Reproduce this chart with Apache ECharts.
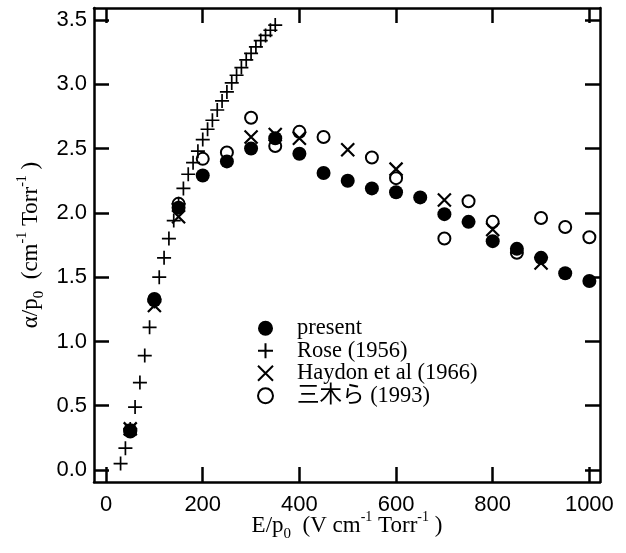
<!DOCTYPE html>
<html>
<head>
<meta charset="utf-8">
<script src="https://cdn.jsdelivr.net/npm/echarts@6/dist/echarts.min.js"></script>
<style>
  html, body { margin: 0; padding: 0; background: #fff; }
  #chart { width: 626px; height: 553px; }
</style>
</head>
<body>
<div id="chart"></div>
<script>
// Ionization coefficient alpha/p0 versus reduced field E/p0

// present measurements
const presentX = [50, 100, 150, 200, 250, 300, 350, 400, 450, 500, 550, 600, 650, 700, 750, 800, 850, 900, 950, 1000];
const presentY = [0.31, 1.32, 2.04, 2.29, 2.40, 2.50, 2.58, 2.46, 2.31, 2.25, 2.19, 2.16, 2.12, 1.99, 1.93, 1.78, 1.72, 1.65, 1.53, 1.47];

// Rose (1956)
const roseX = [30, 40, 50, 60, 70, 80, 90, 100, 110, 120, 130, 140, 150, 160, 170, 180, 190, 200, 210, 220, 230, 240, 250, 260, 270, 280, 290, 300, 310, 320, 330, 340, 350];
const roseY = [0.05, 0.17, 0.32, 0.49, 0.68, 0.89, 1.11, 1.31, 1.50, 1.65, 1.80, 1.94, 2.07, 2.19, 2.30, 2.39, 2.48, 2.57, 2.65, 2.72, 2.80, 2.87, 2.94, 3.01, 3.07, 3.13, 3.19, 3.24, 3.29, 3.34, 3.38, 3.42, 3.46];

// Haydon et al (1966)
const haydonX = [50, 100, 150, 300, 350, 400, 500, 600, 700, 800, 900];
const haydonY = [0.32, 1.28, 1.97, 2.59, 2.61, 2.58, 2.49, 2.34, 2.10, 1.87, 1.61];

// 三木ら (1993)
const mikiX = [50, 100, 150, 200, 250, 300, 350, 400, 450, 550, 600, 700, 750, 800, 850, 900, 950, 1000];
const mikiY = [0.30, 1.33, 2.07, 2.42, 2.47, 2.74, 2.52, 2.63, 2.59, 2.43, 2.27, 1.80, 2.09, 1.93, 1.69, 1.96, 1.89, 1.81];

// tick positions
const xTicks = [0, 200, 400, 600, 800, 1000];
const yTicks = [0, 0.5, 1.0, 1.5, 2.0, 2.5, 3.0, 3.5];

const seriesNames = ['present', 'Rose (1956)', 'Haydon et al (1966)', '三木ら (1993)'];

const pairs = (xs, ys) => xs.map((x, i) => [x, ys[i]]);

const SERIF = '"Liberation Serif", "Noto Sans CJK JP", serif';
const SANS = '"Liberation Sans", Arial, sans-serif';

const titleRich = {
  m: { fontFamily: SERIF, fontSize: 23, color: '#000', lineHeight: 32, verticalAlign: 'middle' },
  s: { fontFamily: SERIF, fontSize: 15, color: '#000', lineHeight: 15, verticalAlign: 'bottom' },
  u: { fontFamily: SERIF, fontSize: 14, color: '#000', lineHeight: 14, verticalAlign: 'top' }
};

const frameLine = { show: true, onZero: false, lineStyle: { color: '#000', width: 2.5 } };
const innerTick = (vals) => ({ show: true, inside: true, length: 15, customValues: vals, lineStyle: { color: '#000', width: 2.5 } });

const X_MIN = -25, X_MAX = 1022;
const Y_MIN = -0.093, Y_MAX = 3.593;

const plusPath = 'path://M0,5L10,5M5,0L5,10';
const crossPath = 'path://M0,0L10,10M0,10L10,0';

const chart = echarts.init(document.getElementById('chart'), null, { renderer: 'canvas' });

chart.setOption({
  animation: false,
  backgroundColor: '#fff',
  grid: { left: 94, right: 26, top: 8, bottom: 71, containLabel: false, outerBoundsMode: 'none' },
  xAxis: [
    {
      type: 'value', position: 'bottom', min: X_MIN, max: X_MAX,
      axisLine: frameLine,
      axisTick: innerTick(xTicks),
      axisLabel: {
        customValues: xTicks, margin: 12, fontFamily: SANS, fontSize: 22, color: '#000',
        formatter: (v) => String(v)
      },
      splitLine: { show: false },
      name: '{m|E/p}{s|0}{m|  (V cm}{u|-1}{m| Torr}{u|-1}{m| )}',
      nameLocation: 'middle', nameGap: 28, nameMoveOverlap: false,
      nameTextStyle: { rich: titleRich }
    },
    {
      type: 'value', position: 'top', min: X_MIN, max: X_MAX,
      axisLine: frameLine,
      axisTick: innerTick(xTicks),
      axisLabel: { show: false },
      splitLine: { show: false }
    }
  ],
  yAxis: [
    {
      type: 'value', position: 'left', min: Y_MIN, max: Y_MAX,
      axisLine: frameLine,
      axisTick: innerTick(yTicks),
      axisLabel: {
        customValues: yTicks, margin: 7, fontFamily: SANS, fontSize: 22, color: '#000',
        formatter: (v) => v.toFixed(1)
      },
      splitLine: { show: false },
      name: '{m|α/p}{s|0}{m|  (cm}{u|-1}{m| Torr}{u|-1}{m| )}',
      nameLocation: 'middle', nameGap: 47, nameRotate: 90, nameMoveOverlap: false,
      nameTextStyle: { rich: titleRich }
    },
    {
      type: 'value', position: 'right', min: Y_MIN, max: Y_MAX,
      axisLine: frameLine,
      axisTick: innerTick(yTicks),
      axisLabel: { show: false },
      splitLine: { show: false }
    }
  ],
  legend: {
    orient: 'vertical', left: 257, top: 317, padding: 0,
    itemWidth: 15, itemHeight: 15, itemGap: 0,
    data: seriesNames,
    textStyle: { fontFamily: SERIF, fontSize: 22.5, color: '#000', lineHeight: 20, padding: [0, 0, 0, 19] }
  },
  series: [
    {
      name: seriesNames[0], type: 'scatter', data: pairs(presentX, presentY),
      symbol: 'circle', symbolSize: 14, z: 2,
      itemStyle: { color: '#000', opacity: 1 }
    },
    {
      name: seriesNames[1], type: 'scatter', data: pairs(roseX, roseY),
      symbol: plusPath, symbolSize: 14, z: 3,
      itemStyle: { color: 'rgba(0,0,0,0)', borderColor: '#000', borderWidth: 1.7, opacity: 1 }
    },
    {
      name: seriesNames[2], type: 'scatter', data: pairs(haydonX, haydonY),
      symbol: crossPath, symbolSize: 13, z: 4,
      itemStyle: { color: 'rgba(0,0,0,0)', borderColor: '#000', borderWidth: 2.2, opacity: 1 }
    },
    {
      name: seriesNames[3], type: 'scatter', data: pairs(mikiX, mikiY),
      symbol: 'circle', symbolSize: 12, z: 5,
      itemStyle: { color: 'rgba(0,0,0,0)', borderColor: '#000', borderWidth: 2, opacity: 1 }
    }
  ]
});
</script>
</body>
</html>
